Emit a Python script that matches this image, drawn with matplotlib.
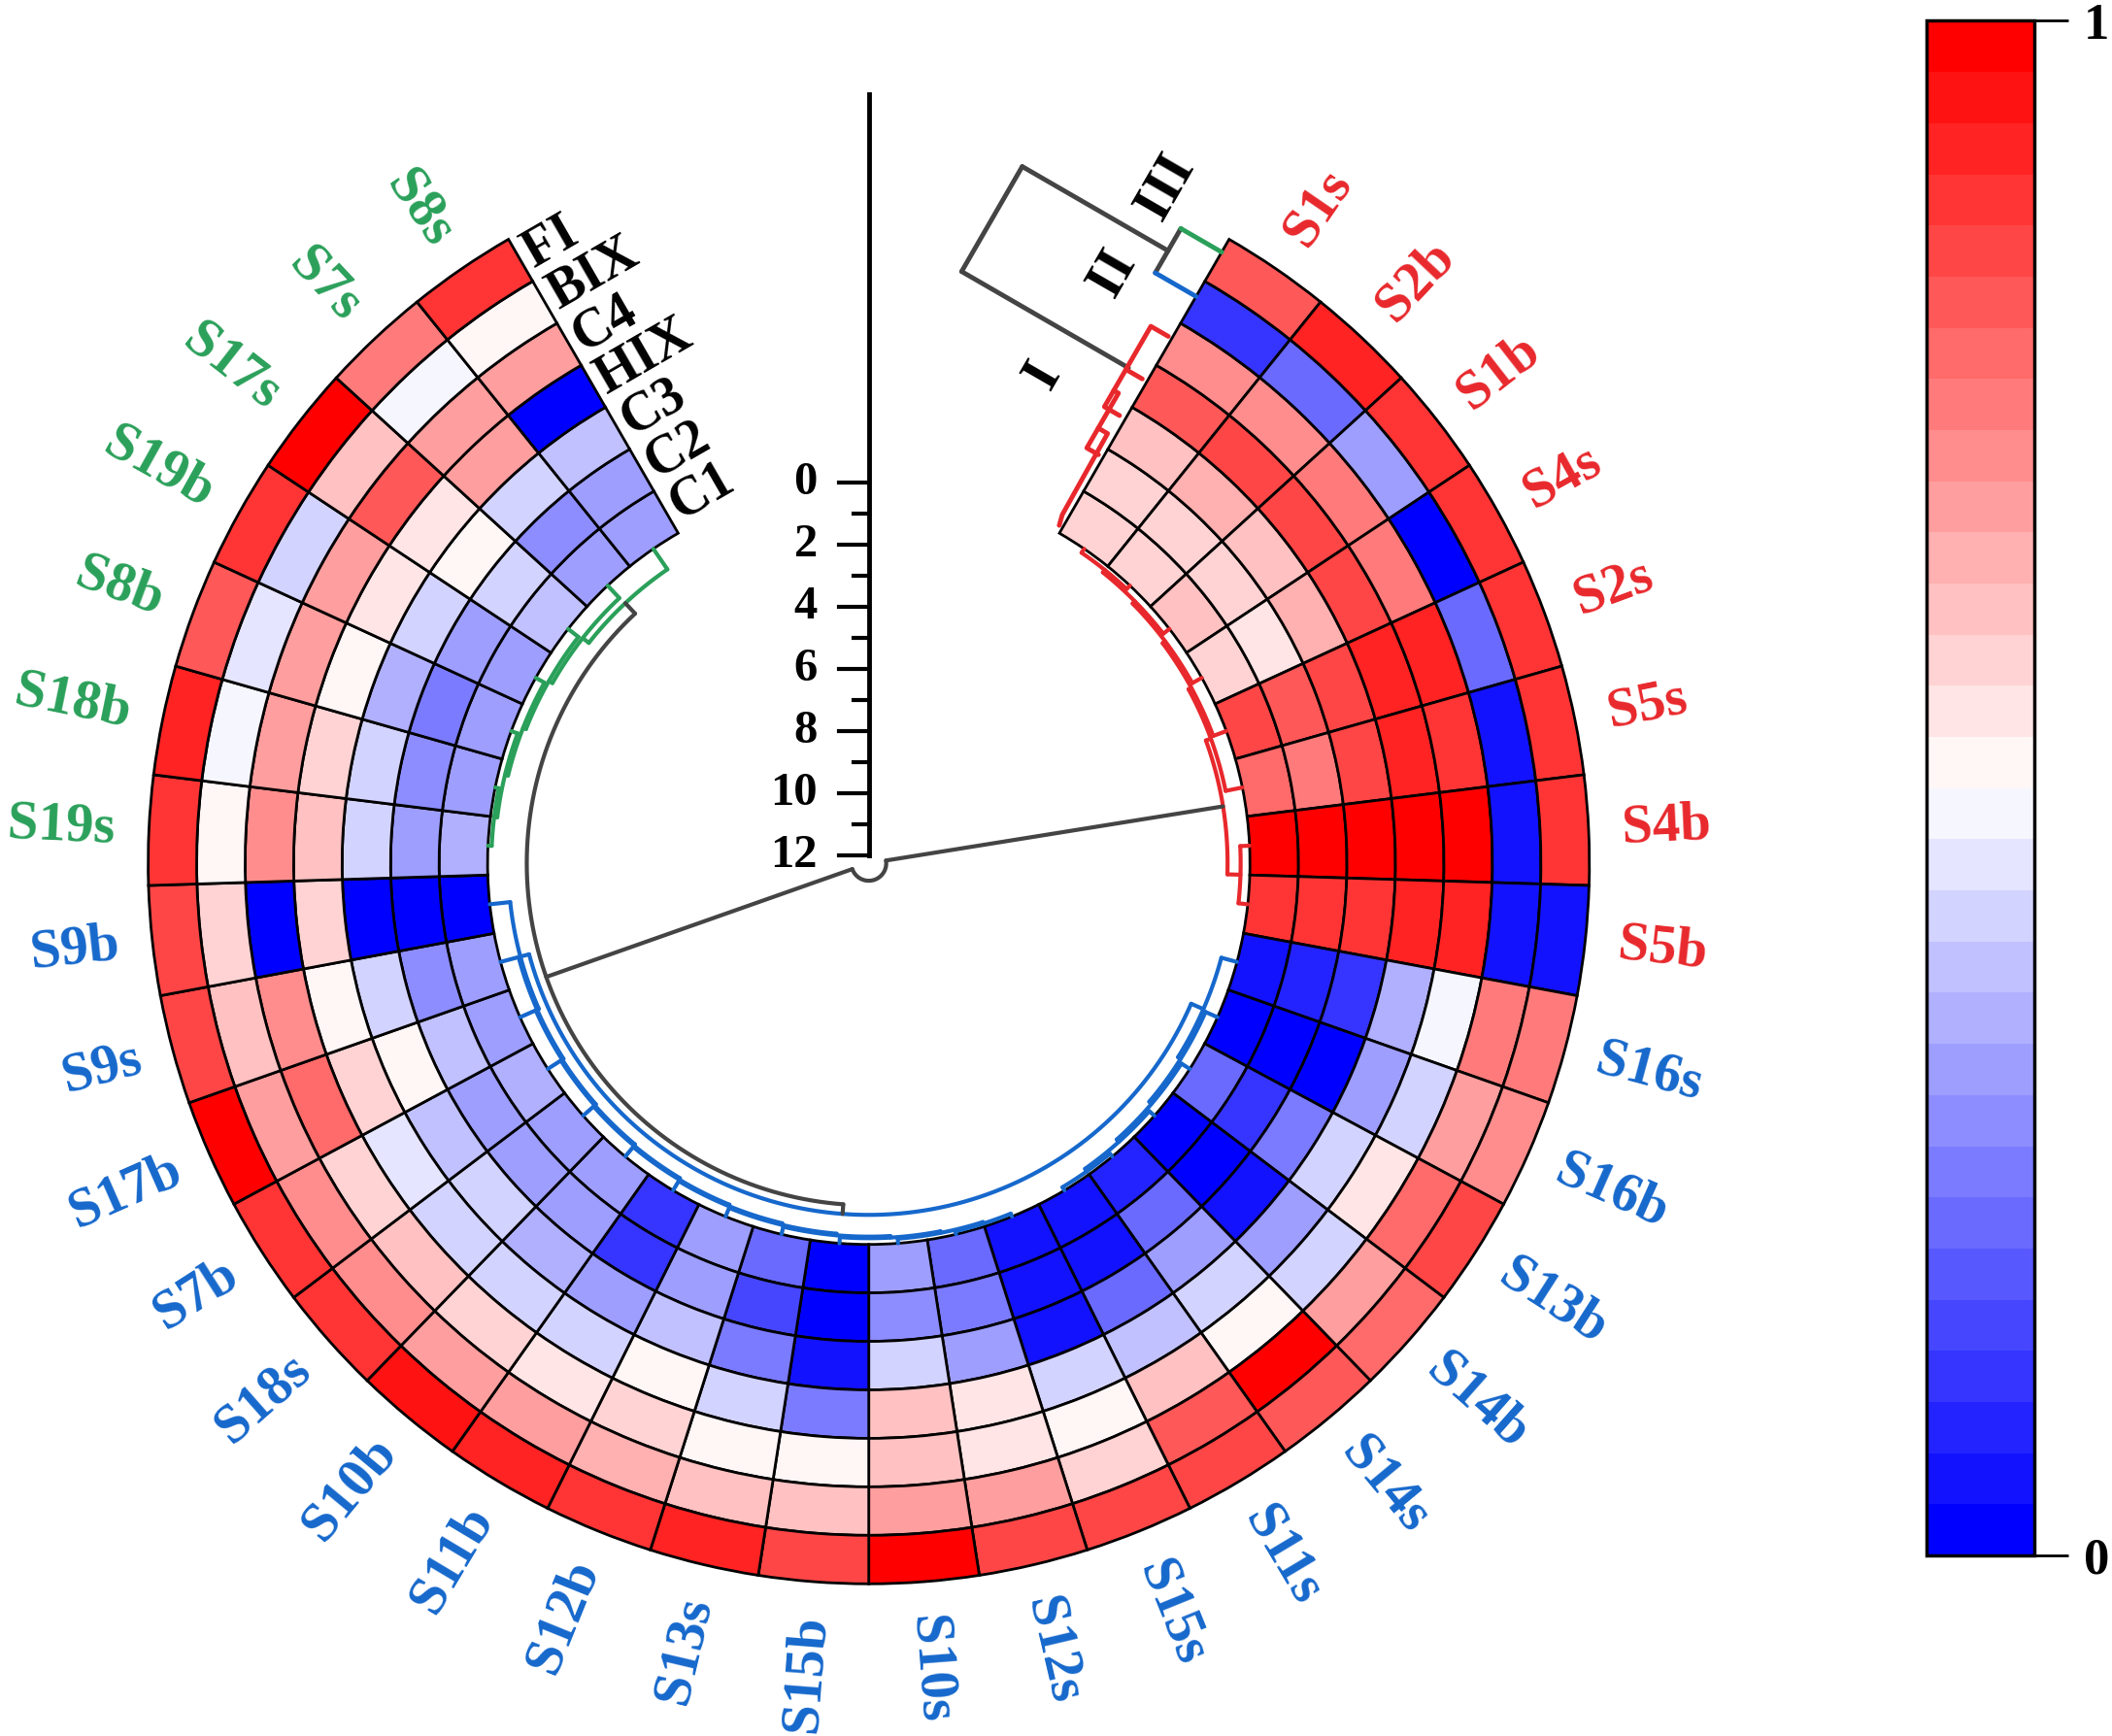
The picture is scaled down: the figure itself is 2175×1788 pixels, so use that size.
"""Circular clustered heatmap of normalised fluorescence indices (C1-C4, HIX, BIX, FI)."""

import numpy as np
import matplotlib

matplotlib.use("Agg")
import matplotlib.pyplot as plt  # noqa: E402
from matplotlib.patches import Wedge  # noqa: E402
from matplotlib.colors import LinearSegmentedColormap, Normalize  # noqa: E402
from matplotlib.cm import ScalarMappable  # noqa: E402

# --- data ------------------------------------------------------------------

SAMPLES = ["S1s", "S2b", "S1b", "S4s", "S2s", "S5s", "S4b", "S5b",
           "S16s", "S16b", "S13b", "S14b", "S14s", "S11s", "S15s", "S12s", "S10s",
           "S15b", "S13s", "S12b", "S11b", "S10b", "S18s", "S7b", "S17b", "S9s", "S9b",
           "S19s", "S18b", "S8b", "S19b", "S17s", "S7s", "S8s"]
GROUP = ["I"] * 8 + ["II"] * 19 + ["III"] * 7
RINGS = ["C1", "C2", "C3", "HIX", "C4", "BIX", "FI"]  # inner -> outer

C1 = [.57, .58, .60, .57, .85, .78, 1.0, .87,
      .05, .03, .20, .03, .08, .05, .05, .22, .33, .03, .20, .30, .12, .30, .30, .35, .33, .33, .00,
      .34, .30, .30, .33, .38, .33, .33]
C2 = [.57, .57, .58, .56, .83, .75, 1.0, .87,
      .08, .03, .12, .03, .20, .05, .05, .25, .28, .03, .15, .30, .12, .30, .32, .30, .38, .28, .00,
      .32, .28, .25, .32, .40, .28, .30]
C3 = [.60, .66, .62, .64, .86, .86, 1.0, .87,
      .10, .03, .25, .05, .30, .22, .05, .33, .40, .05, .25, .37, .30, .35, .40, .38, .50, .40, .00,
      .42, .40, .35, .42, .51, .40, .38]
HIX = [.83, .86, .85, .85, .92, .90, 1.0, .93,
       .35, .30, .43, .30, .42, .38, .40, .55, .62, .25, .40, .50, .40, .42, .40, .45, .58, .52, .57,
       .60, .58, .50, .56, .56, .68, .02]
C4 = [.70, .70, .75, .75, .93, .88, 1.0, .92,
      .48, .40, .55, .42, .52, .60, .50, .56, .60, .52, .52, .57, .55, .58, .60, .58, .78, .70, .00,
      .70, .68, .68, .68, .80, .68, .68]
BIX = [.13, .22, .33, .03, .22, .05, .05, .05,
       .75, .68, .77, .68, 1.0, .82, .57, .67, .68, .62, .60, .65, .68, .68, .70, .70, .68, .60, .57,
       .52, .48, .44, .43, .60, .47, .52]
FI = [.82, .90, .88, .88, .88, .87, .88, .05,
      .75, .73, .85, .77, .80, .85, .85, .85, 1.0, .85, .92, .88, .90, .95, .88, .88, 1.0, .85, .85,
      .87, .92, .80, .88, .98, .75, .88]

# hierarchical merges: (left, right, height); ints refer to earlier merges
MERGES = [
    ("S1s", "S2b", 0.15), (0, "S1b", 0.25), (1, "S4s", 0.35), (2, "S2s", 0.45),
    (3, "S5s", 0.55), ("S4b", "S5b", 0.30), (4, 5, 0.72),
    ("S11s", "S14s", 0.12), (7, "S14b", 0.22), (8, "S13b", 0.32), (9, "S16b", 0.42),
    (10, "S16s", 0.52),
    ("S15s", "S12s", 0.10), (12, "S10s", 0.15), (13, "S15b", 0.20), (14, "S13s", 0.25),
    (15, "S12b", 0.30), (16, "S11b", 0.35), (17, "S10b", 0.40), (18, "S18s", 0.45),
    (19, "S7b", 0.50), (20, "S17b", 0.55), (21, "S9s", 0.60), (22, "S9b", 0.66),
    (11, 23, 0.95),
    ("S19s", "S18b", 0.12), (25, "S8b", 0.22), (26, "S19b", 0.32), (27, "S17s", 0.42),
    (28, "S7s", 0.55), (29, "S8s", 0.80),
    (24, 30, 1.26),
    (6, 31, 11.7),
]
TREE_TICKS = list(range(0, 13))

# small cluster key drawn in the gap: leaf positions along the edge, merge heights
KEY_LEAVES = {"III": (524, 0), "II": (486, 0), "I": (415, 17)}
KEY_MERGES = [("III", "II", 35), (0, "I", 160)]

# --- style -------------------------------------------------------------------

RED, BLUE, GREEN, GRAY = "#e8282c", "#1668cc", "#2aa05a", "#444444"
GROUP_COL = {"I": RED, "II": BLUE, "III": GREEN}
SERIF = "Liberation Serif"

CX, CY = 645.0, 641.0
R_IN, R_OUT = 283.0, 535.0
GAP = 60.0
TH0 = GAP / 2
STEP = (360.0 - GAP) / len(SAMPLES)
K = 23.08  # px per dendrogram height unit
R_LAB = 560.0

cmap = LinearSegmentedColormap.from_list("bwr30", ["#0000ff", "#ffffff", "#ff0000"], N=30)
norm = Normalize(0, 1)


def pol(theta, r):
    t = np.radians(theta)
    return CX + r * np.sin(t), CY - r * np.cos(t)


def arc(ax, r, t1, t2, **kw):
    t = np.linspace(t1, t2, max(4, int(abs(t2 - t1) * 3)))
    x, y = pol(t, r)
    ax.plot(x, y, **kw)


def radial(ax, theta, r1, r2, **kw):
    x, y = pol(np.array([theta, theta]), np.array([r1, r2]))
    ax.plot(x, y, **kw)


fig = plt.figure(figsize=(21.75, 17.88), dpi=100)
ax = fig.add_axes([0, 0, 1, 1])
ax.set_xlim(0, 1568)
ax.set_ylim(1289, 0)
ax.set_aspect("equal")
ax.axis("off")

# --- heatmap rings ---------------------------------------------------------------
ring_vals = [C1, C2, C3, HIX, C4, BIX, FI]
w = (R_OUT - R_IN) / len(RINGS)
for j, vals in enumerate(ring_vals):
    for i, v in enumerate(vals):
        t1 = TH0 + i * STEP
        ax.add_patch(Wedge((CX, CY), R_IN + (j + 1) * w, t1 - 90, t1 + STEP - 90, width=w,
                           facecolor=cmap(norm(v)), edgecolor="black", lw=2, zorder=2))

# sample labels
for i, (name, g) in enumerate(zip(SAMPLES, GROUP)):
    th = TH0 + (i + 0.5) * STEP
    x, y = pol(th, R_LAB)
    if th < 180:
        rot, ha = 90 - th, "left"
    else:
        rot, ha = 270 - th, "right"
    ax.text(x, y, name, rotation=rot, ha=ha, va="center", rotation_mode="anchor",
            color=GROUP_COL[g], fontsize=41, fontweight="bold", family=SERIF)

# ring labels at the left edge of the gap
tang = np.array([np.cos(np.radians(330)), np.sin(np.radians(330))])
for j, name in enumerate(RINGS):
    x, y = pol(360 - TH0, R_IN + (j + 0.5) * w)
    ax.text(x + 6 * tang[0], y + 6 * tang[1], name, rotation=30, ha="left", va="center",
            rotation_mode="anchor", fontsize=40, fontweight="bold", family=SERIF, zorder=3)

# --- circular dendrogram -----------------------------------------------------------
leaf_th = {n: TH0 + (i + 0.5) * STEP for i, n in enumerate(SAMPLES)}
leaf_grp = dict(zip(SAMPLES, GROUP))
nodes = []  # (theta, r, groups)


def node(ref):
    if isinstance(ref, str):
        return leaf_th[ref], R_IN, {leaf_grp[ref]}
    return nodes[ref]


for a, b, h in MERGES:
    ta, ra, ga = node(a)
    tb, rb, gb = node(b)
    r = R_IN - K * h
    groups = ga | gb
    col = GROUP_COL[next(iter(groups))] if len(groups) == 1 else GRAY
    kw = dict(color=col, lw=3, solid_capstyle="round", zorder=4)
    arc(ax, r, min(ta, tb), max(ta, tb), **kw)
    radial(ax, ta, r, ra, **kw)
    radial(ax, tb, r, rb, **kw)
    nodes.append(((ta + tb) / 2, r, groups))

# height scale along the top of the gap
ax.plot([CX, CX], [CY - 571, CY - (R_IN - K * 12)], color="black", lw=3.5, zorder=4)
for h in TREE_TICKS:
    y = CY - (R_IN - K * h)
    ln = 22 if h % 2 == 0 else 11
    ax.plot([CX - ln, CX], [y, y], color="black", lw=3, zorder=4)
    if h % 2 == 0:
        ax.text(CX - 38, y, f"{h}", ha="right", va="center", fontsize=35,
                fontweight="bold", family=SERIF)

# --- cluster key in the gap ----------------------------------------------------------
u = np.array([np.sin(np.radians(TH0)), -np.cos(np.radians(TH0))])
nv = np.array([-np.cos(np.radians(TH0)), -np.sin(np.radians(TH0))])


def gap_xy(s, o):
    p = np.array([CX, CY]) + s * u + o * nv
    return p[0], p[1]


def gap_line(pts, **kw):
    xy = np.array([gap_xy(s, o) for s, o in pts])
    ax.plot(xy[:, 0], xy[:, 1], solid_capstyle="round", **kw)


key_nodes = []


def key_node(ref):
    if isinstance(ref, str):
        s, o = KEY_LEAVES[ref]
        return s, o, ref
    return key_nodes[ref]


for a, b, hgt in KEY_MERGES:
    sa, oa, la = key_node(a)
    sb, ob, lb = key_node(b)
    gap_line([(sa, hgt), (sb, hgt)], color=GRAY, lw=3.5, zorder=4)
    for s, o, lab in ((sa, oa, la), (sb, ob, lb)):
        col = GROUP_COL[lab] if lab in GROUP_COL else GRAY
        if lab in GROUP_COL and o == 0:
            gap_line([(s, 0), (s, hgt)], color=col, lw=3.5, zorder=4)
        else:
            gap_line([(s, o), (s, hgt)], color=GRAY, lw=3.5, zorder=4)
    key_nodes.append(((sa + sb) / 2, hgt, None))

# red sub-bracket of cluster I beside the gap edge
for pts in ([(450, 3), (450, 18), (381, 18), (381, 5)],
            [(413, 18), (413, 4)],
            [(395, 18), (395, 14), (348, 14), (348, 4)],
            [(365, 14), (365, 6), (296, 5), (288, 3)]):
    gap_line(pts, color=RED, lw=3.5, zorder=4)

for lab, (s, o) in {"I": (379, 69), "II": (470, 62), "III": (545, 60)}.items():
    x, y = gap_xy(s, o)
    ax.text(x, y, lab, rotation=60, ha="center", va="center", fontsize=42,
            fontweight="bold", family=SERIF)

# --- colour bar -------------------------------------------------------------------
cax = fig.add_axes([0.912, 0.104, 0.051, 0.884])
cb = fig.colorbar(ScalarMappable(norm=norm, cmap=cmap), cax=cax, ticks=[0, 1])
cb.outline.set_linewidth(2.5)
cax.tick_params(length=25, width=2, pad=12, labelsize=38)
for t in cax.get_yticklabels():
    t.set_fontweight("bold")
    t.set_family(SERIF)
cb.set_ticklabels(["0", "1"])

fig.savefig("out.png", dpi=100)
